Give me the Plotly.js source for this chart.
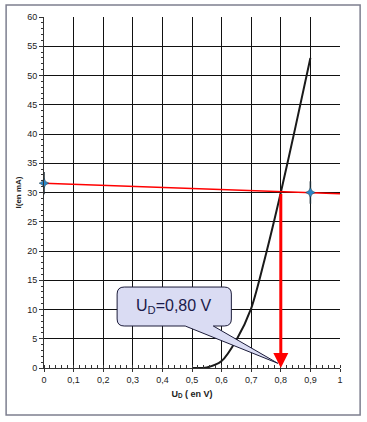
<!DOCTYPE html>
<html>
<head>
<meta charset="utf-8">
<script src="https://cdn.plot.ly/plotly-3.0.1.min.js"></script>
<style>html,body{margin:0;padding:0;background:#fff;}#chart{width:367px;height:422px;}</style>
</head>
<body>
<div id="chart"></div>
<script>
// Diode characteristic I = f(U_D)
const diodeU = [0.5, 0.55, 0.6, 0.65, 0.7, 0.75, 0.8, 0.85, 0.9];
const diodeI = [0, 0.1, 1.2, 4.8, 10.2, 19.5, 30, 41.3, 53];
// Load line
const loadU = [0, 1];
const loadI = [31.6, 29.8];
// Load line markers
const markU = [0, 0.9];
const markI = [31.6, 30.0];
// Operating point
const opU = [0.8];
const opI = [30];
// Tick labels
const xTickVals = [0, 0.1, 0.2, 0.3, 0.4, 0.5, 0.6, 0.7, 0.8, 0.9, 1];
const xTickText = ["0", "0,1", "0,2", "0,3", "0,4", "0,5", "0,6", "0,7", "0,8", "0,9", "1"];
const yTickVals = [0, 5, 10, 15, 20, 25, 30, 35, 40, 45, 50, 55, 60];
const calloutText = "U<sub>D</sub>=0,80 V";

const traces = [
  {x: diodeU, y: diodeI, type: 'scatter', mode: 'lines',
   line: {color: '#1a1a1a', width: 2, shape: 'spline', smoothing: 0.8}, hoverinfo: 'skip'},
  {x: loadU, y: loadI, type: 'scatter', mode: 'lines',
   line: {color: '#ff0000', width: 1.5}, hoverinfo: 'skip'},
  {x: markU, y: markI, type: 'scatter', mode: 'markers', cliponaxis: false,
   marker: {symbol: 'line-ns-open', size: 16, color: '#1b2a33', line: {color: '#1b2a33', width: 1.5}}, hoverinfo: 'skip'},
  {x: markU, y: markI, type: 'scatter', mode: 'markers', cliponaxis: false,
   marker: {symbol: 'star-diamond', size: 7, color: '#2a86c8', line: {color: '#1b3a4a', width: 0.5}}, hoverinfo: 'skip'}
];

const x1 = 0.247, x2 = 0.633, yt = 13.84, yb = 7.18, rx = 0.024, ry = 1.2;
const wL = 0.477, wR = 0.572, tipX = 0.79, tipY = 0.8;
const calloutPath =
  `M ${x1+rx},${yt} L ${x2-rx},${yt} Q ${x2},${yt} ${x2},${yt-ry} L ${x2},${yb+ry} Q ${x2},${yb} ${x2-rx},${yb} ` +
  `L ${wR},${yb} L ${tipX},${tipY} L ${wL},${yb} L ${x1+rx},${yb} Q ${x1},${yb} ${x1},${yb+ry} L ${x1},${yt-ry} Q ${x1},${yt} ${x1+rx},${yt} Z`;

const layout = {
  width: 367, height: 422,
  margin: {l: 44, r: 27, t: 17, b: 54},
  paper_bgcolor: '#ffffff', plot_bgcolor: '#ffffff',
  showlegend: false,
  font: {family: 'Arial, Liberation Sans, sans-serif', size: 9, color: '#222'},
  xaxis: {
    range: [0, 1], tickvals: xTickVals, ticktext: xTickText,
    showgrid: true, gridcolor: '#111111', gridwidth: 1,
    showline: true, linecolor: '#333', linewidth: 1, zeroline: false,
    ticks: 'outside', ticklen: 3, tickcolor: '#333',
    minor: {dtick: 0.02, ticks: 'inside', ticklen: 3, tickcolor: '#333', showgrid: false},
    tickfont: {size: 9, color: '#222', family: 'Arial, Liberation Sans, sans-serif'},
    title: {text: '<b>U<sub>D</sub> ( en V)</b>', font: {size: 9, color: '#222'}, standoff: 6},
    fixedrange: true
  },
  yaxis: {
    range: [0, 60], tickvals: yTickVals,
    showgrid: true, gridcolor: '#111111', gridwidth: 1,
    showline: true, linecolor: '#333', linewidth: 1, zeroline: false,
    ticks: 'outside', ticklen: 4, tickcolor: '#333',
    minor: {dtick: 1, ticks: 'outside', ticklen: 2, tickcolor: '#333', showgrid: false},
    tickfont: {size: 9, color: '#222', family: 'Arial, Liberation Sans, sans-serif'},
    title: {text: '<b>I(en mA)</b>', font: {size: 8, color: '#222'}, standoff: 4},
    fixedrange: true
  },
  shapes: [
    {type: 'rect', xref: 'paper', yref: 'paper', x0: -0.128, x1: 1.068, y0: -0.134, y1: 1.034,
     line: {color: '#7d7f8f', width: 1.5}, fillcolor: 'rgba(0,0,0,0)', layer: 'below'},
    {type: 'path', xref: 'x', yref: 'y', path: calloutPath,
     fillcolor: '#dadcf3', line: {color: '#1c1c3a', width: 1}, layer: 'above'}
  ],
  annotations: [
    {x: opU[0], y: 0, ax: opU[0], ay: opI[0], xref: 'x', yref: 'y', axref: 'x', ayref: 'y',
     showarrow: true, arrowhead: 2, arrowsize: 1, arrowwidth: 3, arrowcolor: '#ff0000', text: ''},
    {x: (x1 + x2) / 2, y: (yt + yb) / 2, xref: 'x', yref: 'y', showarrow: false,
     text: calloutText, font: {size: 16, color: '#1a1a4a', family: 'Liberation Sans, Arial, sans-serif'}}
  ]
};

Plotly.newPlot('chart', traces, layout, {displayModeBar: false, staticPlot: true});
</script>
</body>
</html>
